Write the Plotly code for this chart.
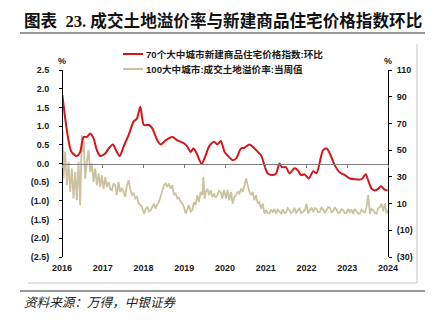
import plotly.graph_objects as go

# ---------------- data ----------------
# 70个大中城市新建商品住宅价格指数:环比 (%), left axis; x in decimal years
red_t = [2016.01, 2016.079, 2016.16, 2016.233, 2016.364, 2016.447, 2016.528, 2016.609, 2016.693, 2016.774,
         2016.855, 2016.939, 2017.061, 2017.143, 2017.248, 2017.322, 2017.413, 2017.511, 2017.634, 2017.757,
         2017.838, 2017.921, 2018.010, 2018.133, 2018.216, 2018.339, 2018.420, 2018.543, 2018.708, 2018.830,
         2018.993, 2019.076, 2019.157, 2019.224, 2019.305, 2019.428, 2019.526, 2019.607, 2019.730, 2019.813,
         2019.894, 2019.990, 2020.042, 2020.189, 2020.270, 2020.393, 2020.477, 2020.600, 2020.681, 2020.803,
         2020.885, 2020.968, 2021.049, 2021.172, 2021.253, 2021.337, 2021.400, 2021.499, 2021.582, 2021.705,
         2021.786, 2021.867, 2021.951, 2022.057, 2022.162, 2022.246, 2022.327, 2022.408, 2022.491, 2022.572,
         2022.695, 2022.818, 2022.941, 2023.064, 2023.187, 2023.351, 2023.450, 2023.514, 2023.597, 2023.678,
         2023.759, 2023.826, 2023.907, 2023.990]
red_v = [1.83, 1.20, 0.62, 0.31, 0.20, 0.31, 0.71, 0.71, 0.80, 0.67,
         0.36, 0.20, 0.27, 0.40, 0.51, 0.36, 0.20, 0.45, 0.76, 1.12,
         1.20, 1.52, 1.03, 1.03, 0.94, 0.62, 0.51, 0.62, 0.71, 0.62,
         0.54, 0.45, 0.31, 0.40, 0.27, -0.01, 0.22, 0.45, 0.58, 0.51,
         0.60, 0.31, 0.24, 0.09, 0.13, 0.40, 0.42, 0.51, 0.45, 0.31,
         0.22, -0.05, -0.27, -0.31, -0.27, 0.00, -0.10, -0.10, -0.27, -0.13,
         -0.18, -0.31, -0.29, -0.40, -0.21, -0.26, 0.04, 0.36, 0.40, 0.27,
         -0.05, -0.24, -0.31, -0.40, -0.42, -0.42, -0.29, -0.45, -0.67, -0.72,
         -0.68, -0.61, -0.69, -0.72]

# 100大中城市:成交土地溢价率:当周值 (%), right axis
tan_t = [2016.012, 2016.037, 2016.078, 2016.119, 2016.160, 2016.201, 2016.242, 2016.283, 2016.324, 2016.364,
         2016.405, 2016.446, 2016.487, 2016.512, 2016.528, 2016.569, 2016.610, 2016.651, 2016.692, 2016.733,
         2016.774, 2016.815, 2016.856, 2016.897, 2016.938, 2016.979, 2017.020, 2017.061, 2017.101, 2017.143,
         2017.184, 2017.224, 2017.265, 2017.306, 2017.347, 2017.388, 2017.429, 2017.470, 2017.511, 2017.552,
         2017.593, 2017.634, 2017.675, 2017.716, 2017.757, 2017.798, 2017.839, 2017.880, 2017.929, 2017.961,
         2018.011, 2018.052, 2018.093, 2018.134, 2018.174, 2018.215, 2018.256, 2018.297, 2018.338, 2018.379,
         2018.420, 2018.461, 2018.502, 2018.543, 2018.584, 2018.625, 2018.666, 2018.707, 2018.748, 2018.789,
         2018.830, 2018.871, 2018.912, 2018.953, 2018.993, 2019.034, 2019.075, 2019.116, 2019.157, 2019.198,
         2019.239, 2019.280, 2019.321, 2019.362, 2019.403, 2019.444, 2019.468, 2019.501, 2019.534, 2019.567,
         2019.608, 2019.649, 2019.690, 2019.730, 2019.771, 2019.812, 2019.853, 2019.894, 2019.935, 2019.976,
         2020.025, 2020.066, 2020.107, 2020.148, 2020.189, 2020.230, 2020.271, 2020.312, 2020.353, 2020.394,
         2020.435, 2020.476, 2020.517, 2020.558, 2020.599, 2020.640, 2020.681, 2020.722, 2020.762, 2020.803,
         2020.844, 2020.885, 2020.926, 2020.967, 2021.008, 2021.049, 2021.090, 2021.131, 2021.172, 2021.213,
         2021.254, 2021.295, 2021.336, 2021.377, 2021.418, 2021.459, 2021.500, 2021.541, 2021.582, 2021.622,
         2021.663, 2021.704, 2021.745, 2021.786, 2021.827, 2021.868, 2021.909, 2021.958, 2021.999, 2022.040,
         2022.081, 2022.122, 2022.163, 2022.204, 2022.245, 2022.286, 2022.327, 2022.368, 2022.409, 2022.450,
         2022.491, 2022.531, 2022.572, 2022.613, 2022.654, 2022.695, 2022.736, 2022.777, 2022.818, 2022.859,
         2022.900, 2022.941, 2022.982, 2023.023, 2023.064, 2023.105, 2023.146, 2023.187, 2023.228, 2023.269,
         2023.310, 2023.351, 2023.391, 2023.432, 2023.473, 2023.514, 2023.555, 2023.596, 2023.637, 2023.678,
         2023.719, 2023.760, 2023.801, 2023.842, 2023.883, 2023.924, 2023.965, 2023.990]
tan_v = [64.9, 28.7, 48.7, 23.7, 41.2, 18.7, 36.2, 13.8, 33.7, 12.5,
         41.2, 8.8, 61.2, 48.7, 59.9, 28.7, 41.2, 50.0, 33.7, 40.0,
         26.2, 36.2, 23.7, 32.5, 22.5, 31.2, 21.2, 30.0, 22.5, 26.2,
         21.0, 20.0, 25.0, 23.7, 16.3, 26.2, 18.7, 21.5, 18.7, 15.0,
         23.7, 27.5, 21.2, 16.3, 18.0, 13.8, 15.0, 10.0, 8.8, 7.5,
         2.5, 6.0, 7.5, 4.0, 5.0, 8.0, 10.0, 6.2, 9.5, 11.2,
         15.0, 18.7, 23.7, 25.0, 22.5, 25.0, 21.2, 23.7, 16.3, 17.5,
         13.8, 14.5, 11.2, 10.0, 7.5, 2.5, 6.5, 8.8, 4.0, 5.0,
         11.2, 8.8, 16.3, 11.2, 18.7, 16.3, 30.0, 13.8, 19.0, 21.2,
         16.3, 20.0, 15.0, 17.5, 14.5, 16.3, 19.5, 18.7, 13.8, 20.0,
         13.8, 20.0, 12.5, 18.7, 10.0, 15.0, 16.3, 18.7, 17.5, 21.2,
         18.7, 23.7, 28.7, 23.7, 18.7, 16.3, 18.7, 12.5, 16.3, 10.0,
         11.2, 6.2, 10.0, 2.5, 5.0, 3.0, 2.5, 5.5, 3.7, 6.0,
         2.5, 5.5, 4.3, 2.5, 5.7, 3.0, 3.3, 6.5, 5.0, 2.8,
         3.7, 6.8, 2.5, 5.0, 6.2, 3.0, 3.7, 5.0, 10.0, 2.5,
         5.0, 7.0, 3.7, 6.5, 6.2, 3.5, 3.7, 7.0, 5.7, 3.0,
         5.0, 7.5, 6.8, 3.5, 4.3, 7.0, 5.7, 2.8, 3.3, 6.0,
         5.0, 2.8, 3.0, 6.0, 3.7, 5.5, 2.5, 6.0, 4.3, 2.5,
         2.5, 5.5, 4.3, 3.0, 7.5, 16.3, 2.5, 6.0, 5.0, 3.0,
         2.5, 6.5, 7.5, 10.0, 4.3, 10.0, 2.5, 5.0]

years = list(range(2016, 2025))
year_labels = [str(y) for y in years]
left_ticks = [2.5, 2.0, 1.5, 1.0, 0.5, 0.0, -0.5, -1.0, -1.5, -2.0, -2.5]
left_labels = ["2.5", "2.0", "1.5", "1.0", "0.5", "0.0", "(0.5)", "(1.0)", "(1.5)", "(2.0)", "(2.5)"]
right_ticks = [110, 90, 70, 50, 30, 10, -10, -30]
right_labels = ["110", "90", "70", "50", "30", "10", "(10)", "(30)"]

name_red = "70个大中城市新建商品住宅价格指数:环比"
name_tan = "100大中城市:成交土地溢价率:当周值"
title = "图表  23. 成交土地溢价率与新建商品住宅价格指数环比"
source = "资料来源：万得，中银证券"

RED = "#d2161b"
TAN = "#cbc29f"

# ---------------- layout geometry ----------------
W, H = 434, 326
L, R, T, B = 62, 46, 70, 69
PW, PH = W - L - R, H - T - B


def px(x):
    return (x - L) / PW


def py(y):
    return (H - B - y) / PH


fig = go.Figure()
fig.add_trace(go.Scatter(x=tan_t, y=tan_v, mode="lines", name=name_tan,
                         line=dict(color=TAN, width=1.8), xaxis="x", yaxis="y",
                         showlegend=False))
fig.add_trace(go.Scatter(x=red_t, y=red_v, mode="lines", name=name_red,
                         line=dict(color=RED, width=2, shape="spline", smoothing=0.8),
                         xaxis="x2", yaxis="y2", showlegend=False))

tickfont = dict(family="Liberation Sans, Arial, sans-serif", size=9, color="#1a1a1a", weight="bold")

fig.update_layout(
    width=W, height=H,
    margin=dict(l=L, r=R, t=T, b=B),
    paper_bgcolor="white", plot_bgcolor="white",
    xaxis=dict(range=[2016, 2024], tickvals=years, ticktext=year_labels, showline=False,
               ticks="", showgrid=False, zeroline=False, tickfont=tickfont,
               ticklabelstandoff=4),
    xaxis2=dict(range=[2016, 2024], overlaying="x", anchor="free", position=0.5,
                tickvals=years, showticklabels=False, showline=True, linecolor="#7f7f7f",
                linewidth=1, ticks="outside", ticklen=3, tickcolor="#7f7f7f",
                showgrid=False, zeroline=False),
    yaxis=dict(range=[-30, 110], tickvals=right_ticks, ticktext=right_labels, side="right",
               anchor="x", showline=True, linecolor="black", linewidth=1, ticks="outside",
               ticklen=3, tickcolor="black", showgrid=False, zeroline=False,
               tickfont=tickfont, ticklabelstandoff=3),
    yaxis2=dict(range=[-2.5, 2.5], tickvals=left_ticks, ticktext=left_labels, side="left",
                overlaying="y", anchor="free", position=0, showline=True, linecolor="black",
                linewidth=1, ticks="outside", ticklen=3, tickcolor="black", showgrid=False,
                zeroline=False, tickfont=tickfont, ticklabelstandoff=8),
)

cjk = "Noto Sans CJK SC"
ann = []
ann.append(dict(x=px(22), y=py(21), xref="paper", yref="paper", text=title, showarrow=False,
                xanchor="left", yanchor="middle",
                font=dict(family="Liberation Serif, " + cjk, size=16.6, color="#111111", weight="bold")))
ann.append(dict(x=px(22), y=py(301), xref="paper", yref="paper", text=source, showarrow=False,
                xanchor="left", yanchor="middle",
                font=dict(family=cjk, size=12.6, color="#222222", style="italic")))
for txt, yy in [(name_red, 54), (name_tan, 69)]:
    ann.append(dict(x=px(144), y=py(yy), xref="paper", yref="paper", text=txt, showarrow=False,
                    xanchor="left", yanchor="middle",
                    font=dict(family="Liberation Sans, " + cjk, size=9.6, color="#1a1a1a", weight="bold")))
ann.append(dict(x=px(61.5), y=py(61), xref="paper", yref="paper", text="%", showarrow=False,
                xanchor="center", yanchor="middle", font=tickfont))
ann.append(dict(x=px(387.5), y=py(61), xref="paper", yref="paper", text="%", showarrow=False,
                xanchor="center", yanchor="middle", font=tickfont))

shapes = []
# legend samples
shapes.append(dict(type="line", xref="paper", yref="paper", x0=px(123), x1=px(143), y0=py(54), y1=py(54),
                   line=dict(color=RED, width=2)))
shapes.append(dict(type="line", xref="paper", yref="paper", x0=px(123), x1=px(143), y0=py(69), y1=py(69),
                   line=dict(color=TAN, width=2)))
# title underline and source line
shapes.append(dict(type="line", xref="paper", yref="paper", x0=px(20), x1=px(425), y0=py(33), y1=py(33),
                   line=dict(color="#333333", width=1)))
shapes.append(dict(type="line", xref="paper", yref="paper", x0=px(20), x1=px(425), y0=py(291), y1=py(291),
                   line=dict(color="#333333", width=1)))
# light frame
shapes.append(dict(type="line", xref="paper", yref="paper", x0=px(417), x1=px(417), y0=py(44), y1=py(283),
                   line=dict(color="#c4c4c4", width=1)))
shapes.append(dict(type="line", xref="paper", yref="paper", x0=px(28), x1=px(417), y0=py(283), y1=py(283),
                   line=dict(color="#c4c4c4", width=1)))

fig.update_layout(annotations=ann, shapes=shapes)
fig.write_html("out.html")
